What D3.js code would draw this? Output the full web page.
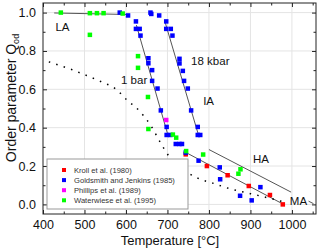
<!DOCTYPE html>
<html>
<head>
<meta charset="utf-8">
<script src="https://cdn.jsdelivr.net/npm/d3@7/dist/d3.min.js"></script>
<style>
    body { margin: 0; background: #fff; }
    text { font-family: Arial, "Liberation Sans", sans-serif; }
</style>
</head>
<body>
<svg id="chart" width="320" height="251"></svg>
<script>
// data: [temperature °C, Q_od]
var kroll = [[744, 0.261], [795, 0.2], [845, 0.152], [896, 0.096], [947, 0.049], [978, 0.0]];

var goldsmith = [
    [585, 1.0], [605, 0.985], [659, 1.0], [661, 0.993], [680, 0.985],
    [624, 0.954], [624, 0.915], [633, 0.915], [635, 0.88], [654, 0.762], [654, 0.736],
    [663, 0.70], [663, 0.644], [676, 0.604], [684, 0.49], [698, 0.404], [698, 0.362],
    [707, 0.362], [720, 0.315], [729, 0.315], [735, 0.315], [744, 0.27],
    [697, 0.954], [697, 0.915], [708, 0.915], [712, 0.88], [729, 0.759], [729, 0.735],
    [737, 0.696], [740, 0.644], [749, 0.604], [757, 0.49], [773, 0.404], [773, 0.362],
    [779, 0.362], [775, 0.228], [826, 0.193], [827, 0.131], [875, 0.045], [903, 0.021],
    [924, 0.09]
];

var phillips = [[697, 0.44]];

var waterwiese = [
    [443, 1.0], [513, 0.997], [530, 0.997], [546, 0.997], [513, 0.884], [592, 0.995],
    [629, 0.773], [629, 0.712], [653, 0.56], [654, 0.393], [713, 0.364], [721, 0.348],
    [745, 0.278], [786, 0.26], [871, 0.16], [876, 0.183]
];

// solid guide lines
var lineLA = [[427, 0.998], [605, 0.99]];
var line1bar = [[625, 0.935], [700, 0.37]];
var line18kbar = [[695, 0.945], [775, 0.36]];
var lineMA = [[745, 0.27], [980, 0.0]];
var lineHA = [[800, 0.286], [998, 0.064]];
var lineHAend = [[1040, 0.017], [1052, 0.004]];

// dotted curve
var dottedCurve = [
    [414, 0.743], [469, 0.703], [505, 0.672], [541, 0.639], [577, 0.599], [601, 0.547],
    [633, 0.486], [661, 0.407], [681, 0.33], [705, 0.247], [753, 0.16], [776, 0.134],
    [809, 0.111], [850, 0.082], [900, 0.056], [950, 0.03], [975, 0.016]
];

var series = [
    { name: "Kroll et al. (1980)", color: "#ff0000", values: kroll },
    { name: "Goldsmith and Jenkins (1985)", color: "#0000ff", values: goldsmith },
    { name: "Phillips et al. (1989)", color: "#ff00ff", values: phillips },
    { name: "Waterwiese et al. (1995)", color: "#00ff00", values: waterwiese }
];

var labels = [
    { text: "LA", t: 430, q: 0.905 },
    { text: "1 bar", t: 588, q: 0.63 },
    { text: "18 kbar", t: 757, q: 0.725 },
    { text: "IA", t: 786, q: 0.517 },
    { text: "HA", t: 906, q: 0.216 },
    { text: "MA", t: 995, q: -0.005 }
];

var xMajor = d3.range(400, 1001, 100);
var xMinor = d3.range(450, 1051, 100);
var yMajor = d3.range(0, 1.01, 0.2);
var yMinor = [0.1, 0.3, 0.5, 0.7, 0.9];

var svg = d3.select("#chart");
var plotLeft = 43, plotRight = 316, plotTop = 3, plotBottom = 214;

var x = d3.scaleLinear().domain([400, 1058]).range([plotLeft, plotRight]);
var y = d3.scaleLinear().domain([-0.05, 1.05]).range([plotBottom, plotTop]);

// grid
svg.append("g").selectAll("line").data(xMajor.slice(1)).enter().append("line")
    .attr("x1", function (d) { return x(d); }).attr("x2", function (d) { return x(d); })
    .attr("y1", plotTop).attr("y2", plotBottom)
    .attr("stroke", "#e4e4e4").attr("stroke-width", 1);
svg.append("g").selectAll("line").data(yMajor).enter().append("line")
    .attr("y1", function (d) { return y(d); }).attr("y2", function (d) { return y(d); })
    .attr("x1", plotLeft).attr("x2", plotRight)
    .attr("stroke", "#e4e4e4").attr("stroke-width", 1);

// axes (ticks pointing inward)
function styleAxis(g)
{
    g.select(".domain").remove();
    g.selectAll("line").attr("stroke", "#222");
    g.selectAll("text").attr("fill", "#111").style("font-size", "12.5px");
}

svg.append("g").attr("transform", "translate(0," + plotBottom + ")")
    .call(d3.axisBottom(x).tickValues(xMajor).tickSize(-4).tickPadding(6).tickFormat(d3.format("d")))
    .call(styleAxis);
svg.append("g").attr("transform", "translate(0," + plotBottom + ")")
    .call(d3.axisBottom(x).tickValues(xMinor).tickSize(-2.5).tickFormat(""))
    .call(styleAxis);
svg.append("g").attr("transform", "translate(0," + plotTop + ")")
    .call(d3.axisTop(x).tickValues(xMajor).tickSize(-4).tickFormat(""))
    .call(styleAxis);
svg.append("g").attr("transform", "translate(0," + plotTop + ")")
    .call(d3.axisTop(x).tickValues(xMinor).tickSize(-2.5).tickFormat(""))
    .call(styleAxis);

svg.append("g").attr("transform", "translate(" + plotLeft + ",0)")
    .call(d3.axisLeft(y).tickValues(yMajor).tickSize(-4).tickPadding(7).tickFormat(d3.format(".1f")))
    .call(styleAxis);
svg.append("g").attr("transform", "translate(" + plotLeft + ",0)")
    .call(d3.axisLeft(y).tickValues(yMinor).tickSize(-2.5).tickFormat(""))
    .call(styleAxis);
svg.append("g").attr("transform", "translate(" + plotRight + ",0)")
    .call(d3.axisRight(y).tickValues(yMajor).tickSize(-4).tickFormat(""))
    .call(styleAxis);
svg.append("g").attr("transform", "translate(" + plotRight + ",0)")
    .call(d3.axisRight(y).tickValues(yMinor).tickSize(-2.5).tickFormat(""))
    .call(styleAxis);

svg.append("rect")
    .attr("x", plotLeft).attr("y", plotTop)
    .attr("width", plotRight - plotLeft).attr("height", plotBottom - plotTop)
    .attr("fill", "none").attr("stroke", "#222").attr("stroke-width", 1);

// lines
var line = d3.line()
    .x(function (d) { return x(d[0]); })
    .y(function (d) { return y(d[1]); });

[lineLA, line1bar, line18kbar, lineMA, lineHA, lineHAend].forEach(function (l)
{
    svg.append("path").attr("d", line(l))
        .attr("fill", "none").attr("stroke", "#555").attr("stroke-width", 1);
});

svg.append("path")
    .attr("d", line.curve(d3.curveMonotoneX)(dottedCurve))
    .attr("fill", "none").attr("stroke", "#000").attr("stroke-width", 1.5)
    .attr("stroke-dasharray", "1.5,6.3");

// points
var size = 4.5;
series.forEach(function (s)
{
    svg.append("g").selectAll("rect").data(s.values).enter().append("rect")
        .attr("x", function (d) { return x(d[0]) - size / 2; })
        .attr("y", function (d) { return y(d[1]) - size / 2; })
        .attr("width", size).attr("height", size)
        .attr("fill", s.color);
});

// region labels
svg.append("g").selectAll("text").data(labels).enter().append("text")
    .attr("x", function (d) { return x(d.t); })
    .attr("y", function (d) { return y(d.q); })
    .style("font-size", "11.5px").attr("fill", "#111")
    .text(function (d) { return d.text; });

// legend
var legend = svg.append("g");
legend.append("rect")
    .attr("x", 47).attr("y", 159).attr("width", 141).attr("height", 50)
    .attr("fill", "#fff").attr("stroke", "#999").attr("stroke-width", 1);
var items = legend.selectAll("g.item").data(series).enter().append("g")
    .attr("transform", function (d, i) { return "translate(64," + (170 + i * 10.1) + ")"; });
items.append("rect")
    .attr("x", -2).attr("y", -2).attr("width", 4).attr("height", 4)
    .attr("fill", function (d) { return d.color; });
items.append("text")
    .attr("x", 10).attr("dy", "0.35em")
    .style("font-size", "7.6px").attr("fill", "#333")
    .text(function (d) { return d.name; });

// axis titles
svg.append("text")
    .attr("x", 170).attr("y", 245)
    .attr("text-anchor", "middle").style("font-size", "13px").attr("fill", "#111")
    .text("Temperature [°C]");

var yTitle = svg.append("text")
    .attr("transform", "translate(16,98) rotate(-90)")
    .attr("text-anchor", "middle").style("font-size", "14px").attr("fill", "#111");
yTitle.append("tspan").text("Order parameter Q");
yTitle.append("tspan").attr("dy", 3).style("font-size", "9px").text("od");
</script>
</body>
</html>
